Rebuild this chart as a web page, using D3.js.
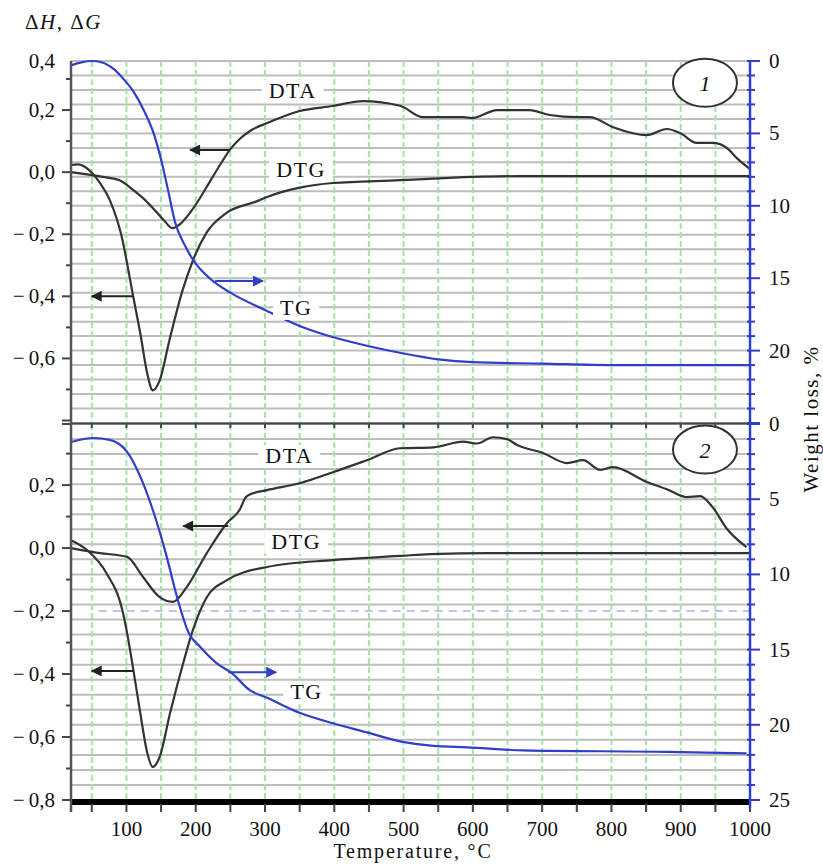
<!DOCTYPE html>
<html>
<head>
<meta charset="utf-8">
<script src="https://cdn.jsdelivr.net/npm/d3@7"></script>
<style>
  body { margin: 0; background: #fff; }
  svg { display: block; }
  text { font-family: "Liberation Serif", "Times New Roman", serif; fill: #111; }
</style>
</head>
<body>
<svg id="chart" width="823" height="865"></svg>
<script>
// temperature, °C -> value. DTA/DTG on left axis, TG (weight loss %) on right axis
const dta1 = [[20,0],[60,-0.013],[90,-0.026],[110,-0.058],[127,-0.09],[144,-0.13],[156,-0.16],[166,-0.18],
  [177,-0.168],[192,-0.13],[206,-0.084],[220,-0.032],[235,0.023],[250,0.074],[265,0.11],[280,0.135],[303,0.158],
  [350,0.197],[398,0.213],[441,0.229],[495,0.214],[528,0.177],[586,0.177],[599,0.174],[635,0.2],[682,0.2],
  [711,0.184],[750,0.177],[769,0.177],[802,0.145],[851,0.119],[880,0.139],[899,0.126],[923,0.094],[946,0.094],
  [967,0.077],[981,0.045],[1000,0.01]];
const dtg1 = [[20,0.023],[30,0.025],[47,0.005],[62,-0.035],[76,-0.09],[86,-0.15],[92,-0.197],[110,-0.403],
  [120,-0.519],[130,-0.648],[138,-0.703],[148,-0.671],[162,-0.542],[181,-0.381],[196,-0.284],[215,-0.197],
  [244,-0.132],[287,-0.095],[303,-0.08],[350,-0.05],[398,-0.035],[495,-0.026],[559,-0.019],[665,-0.013],[1000,-0.013]];
const tg1 = [[20,0.3],[35,0.1],[50,0],[65,0.1],[80,0.5],[95,1.2],[110,2.1],[125,3.4],[140,5.1],[150,6.8],
  [160,8.9],[170,11.1],[185,12.8],[200,14.0],[220,15.0],[250,16.0],[300,17.2],[350,18.3],[400,19.1],[450,19.7],
  [500,20.2],[550,20.6],[600,20.8],[700,20.9],[800,21.0],[1000,21.0]];

const dta2 = [[20,0],[62,-0.016],[101,-0.028],[124,-0.092],[148,-0.156],[167,-0.171],[187,-0.124],[216,-0.016],
  [245,0.079],[263,0.12],[272,0.16],[278,0.17],[303,0.184],[350,0.206],[398,0.241],[447,0.279],[495,0.317],
  [543,0.32],[586,0.338],[606,0.332],[629,0.352],[649,0.346],[664,0.327],[701,0.302],[736,0.27],[759,0.279],
  [784,0.248],[802,0.257],[851,0.21],[880,0.187],[909,0.162],[928,0.165],[946,0.13],[966,0.063],[995,0.003]];
const dtg2 = [[20,0.025],[43,-0.006],[71,-0.079],[94,-0.197],[101,-0.27],[110,-0.387],[120,-0.524],[130,-0.65],
  [138,-0.695],[148,-0.663],[163,-0.524],[182,-0.365],[196,-0.26],[216,-0.156],[245,-0.102],[303,-0.06],
  [398,-0.038],[495,-0.025],[538,-0.019],[625,-0.016],[1000,-0.016]];
const tg2 = [[20,1.2],[52,0.93],[76,1.06],[101,1.86],[120,3.5],[138,5.7],[158,8.8],[173,11.5],[190,13.9],
  [206,14.8],[230,15.9],[253,16.6],[278,17.7],[303,18.2],[350,19.2],[398,19.9],[447,20.5],[495,21.1],
  [543,21.4],[592,21.5],[673,21.7],[880,21.8],[995,21.9]];

const xTicks = [100, 200, 300, 400, 500, 600, 700, 800, 900, 1000];
const leftTicks1 = [0.4, 0.2, 0, -0.2, -0.4, -0.6];
const leftTicks2 = [0.2, 0, -0.2, -0.4, -0.6, -0.8];
const rightTicks1 = [0, 5, 10, 15, 20];
const rightTicks2 = [0, 5, 10, 15, 20, 25];

// labels: [name, T, value on left axis]
const curveLabels1 = [["DTA", 340, 0.24], ["DTG", 352, -0.015], ["TG", 345, -0.46]];
const curveLabels2 = [["DTA", 335, 0.27], ["DTG", 345, -0.002], ["TG", 360, -0.48]];
// arrows: [T from, T to, value, axis]
const arrows1 = [[249, 192, 0.071, "L"], [110, 50, -0.4, "L"], [228, 297, 15.2, "R"]];
const arrows2 = [[247, 182, 0.07, "L"], [110, 50, -0.39, "L"], [247, 316, 16.5, "R"]];

const svg = d3.select("#chart");
const x = d3.scaleLinear().domain([20, 1000]).range([71, 750]);
const blue = "#2f3fc8";

const panels = [
  { top: 61, bottom: 423, left: [-0.808, 0.358], dta: dta1, dtg: dtg1, tg: tg1,
    lt: leftTicks1, rt: rightTicks1, labels: curveLabels1, arrows: arrows1, tag: "1" },
  { top: 424, bottom: 800, left: [-0.8, 0.394], dta: dta2, dtg: dtg2, tg: tg2,
    lt: leftTicks2, rt: rightTicks2, labels: curveLabels2, arrows: arrows2, tag: "2" }
];

let defs = svg.append("defs");
for (let [id, col] of [["ahBlack", "#222"], ["ahBlue", blue]]) {
  defs.append("marker")
    .attr("id", id)
    .attr("viewBox", "0 -5 10 10")
    .attr("refX", 9).attr("refY", 0)
    .attr("orient", "auto")
    .attr("markerUnits", "userSpaceOnUse")
    .attr("markerWidth", 13).attr("markerHeight", 11)
    .append("path")
    .attr("d", "M0,-5 L10,0 L0,5 Z")
    .attr("fill", col);
}

let fmtLeft = v => (v < 0 ? "\u2212\u2009" : "") + Math.abs(v).toFixed(1).replace(".", ",");

for (let p of panels) {
  let yL = d3.scaleLinear().domain(p.left).range([p.bottom, p.top]);
  let yR = d3.scaleLinear().domain([0, 25]).range([p.top, p.bottom]);
  let g = svg.append("g");

  // gray horizontal grid every 1 %
  g.selectAll(".hg").data(d3.range(0, 26)).join("line")
    .attr("x1", x(20)).attr("x2", x(1000))
    .attr("y1", d => yR(d)).attr("y2", d => yR(d))
    .attr("stroke", "#bdbdbd").attr("stroke-width", 2);

  // green dashed vertical grid every 50 °C
  g.selectAll(".vg").data(d3.range(50, 1000, 50)).join("line")
    .attr("x1", d => x(d)).attr("x2", d => x(d))
    .attr("y1", p.top).attr("y2", p.bottom)
    .attr("stroke", "#a6e3a6").attr("stroke-width", 2)
    .attr("stroke-dasharray", "6 3");

  if (p.tag == "2") {
    g.append("line")
      .attr("x1", x(60)).attr("x2", x(1000))
      .attr("y1", yL(-0.2)).attr("y2", yL(-0.2))
      .attr("stroke", "#8a8ee0").attr("stroke-width", 1.5)
      .attr("stroke-dasharray", "8 6").attr("opacity", 0.7);
  }

  // left axis ticks + labels
  g.selectAll(".lt").data(d3.range(-8, 5).map(d => d / 10).filter(v => v >= p.left[0] + 0.005 - (p.tag == "2" ? 0.01 : 0) && v <= p.left[1] + 0.01)).join("line")
    .attr("x1", d => Math.round(d * 10) % 2 == 0 ? 62 : 66).attr("x2", 71)
    .attr("y1", d => yL(Math.min(d, p.left[1]))).attr("y2", d => yL(Math.min(d, p.left[1])))
    .attr("stroke", "#444").attr("stroke-width", 2);
  g.selectAll(".ll").data(p.lt).join("text")
    .attr("x", 55).attr("y", d => yL(Math.min(d, p.left[1])) + 7)
    .attr("text-anchor", "end")
    .style("font-size", "21px")
    .text(fmtLeft);

  // right axis ticks + labels
  g.selectAll(".rt").data(d3.range(0, 26)).join("line")
    .attr("x1", 747).attr("x2", d => d % 5 == 0 ? 760 : 755)
    .attr("y1", d => yR(d)).attr("y2", d => yR(d))
    .attr("stroke", blue).attr("stroke-width", 2);
  g.selectAll(".rl").data(p.rt).join("text")
    .attr("x", 769).attr("y", d => yR(d) + 7)
    .style("font-size", "21px")
    .text(d => d);

  // curves
  let lineL = d3.line().x(d => x(d[0])).y(d => yL(d[1])).curve(d3.curveMonotoneX);
  let lineR = d3.line().x(d => x(d[0])).y(d => yR(d[1])).curve(d3.curveMonotoneX);
  for (let s of [p.dta, p.dtg]) {
    g.append("path").attr("d", lineL(s))
      .attr("fill", "none").attr("stroke", "#333").attr("stroke-width", 2.2);
  }
  g.append("path").attr("d", lineR(p.tg))
    .attr("fill", "none").attr("stroke", blue).attr("stroke-width", 2.2);

  // curve labels with white boxes
  for (let [name, t, v] of p.labels) {
    let tx = g.append("text")
      .attr("x", x(t)).attr("y", yL(v))
      .attr("text-anchor", "middle")
      .style("font-size", "22px")
      .style("letter-spacing", "1.5px")
      .text(name);
    let bb = tx.node().getBBox();
    g.insert("rect", () => tx.node())
      .attr("x", bb.x - 7).attr("y", bb.y + 2)
      .attr("width", bb.width + 14).attr("height", bb.height - 2)
      .attr("fill", "#fff");
  }

  // arrows
  for (let [t0, t1, v, ax] of p.arrows) {
    let yy = ax == "L" ? yL(v) : yR(v);
    g.append("line")
      .attr("x1", x(t0)).attr("x2", x(t1))
      .attr("y1", yy).attr("y2", yy)
      .attr("stroke", ax == "L" ? "#222" : blue).attr("stroke-width", 2)
      .attr("marker-end", ax == "L" ? "url(#ahBlack)" : "url(#ahBlue)");
  }

  // panel tag ellipse
  let cy = yR(p.tag == "1" ? 1.5 : 1.7);
  g.append("ellipse")
    .attr("cx", x(935)).attr("cy", cy)
    .attr("rx", 32).attr("ry", 24)
    .attr("fill", "#fff").attr("stroke", "#333").attr("stroke-width", 2);
  g.append("text")
    .attr("x", x(935)).attr("y", cy + 8)
    .attr("text-anchor", "middle")
    .style("font-size", "22px").style("font-style", "italic")
    .text(p.tag);
}

// divider between panels, with small ticks
svg.append("line").attr("x1", x(20)).attr("x2", x(1000)).attr("y1", 423.5).attr("y2", 423.5)
  .attr("stroke", "#444").attr("stroke-width", 2);
svg.selectAll(".dt").data(d3.range(50, 1000, 50)).join("line")
  .attr("x1", d => x(d)).attr("x2", d => x(d))
  .attr("y1", 423).attr("y2", 428)
  .attr("stroke", "#444").attr("stroke-width", 2);

// bottom axis (thick) + ticks + labels
svg.append("line").attr("x1", x(20) - 1).attr("x2", x(1000)).attr("y1", 802).attr("y2", 802)
  .attr("stroke", "#000").attr("stroke-width", 6);
svg.selectAll(".bt").data(d3.range(50, 1050, 50)).join("line")
  .attr("x1", d => x(d)).attr("x2", d => x(d))
  .attr("y1", 804).attr("y2", 812)
  .attr("stroke", "#444").attr("stroke-width", 2);
svg.selectAll(".bl").data(xTicks).join("text")
  .attr("x", d => x(d)).attr("y", 836)
  .attr("text-anchor", "middle")
  .style("font-size", "21px")
  .text(d => d);

// left and right axis lines
svg.append("line").attr("x1", 71).attr("x2", 71).attr("y1", 61).attr("y2", 812)
  .attr("stroke", "#555").attr("stroke-width", 2.5);
svg.append("line").attr("x1", 750).attr("x2", 750).attr("y1", 61).attr("y2", 808)
  .attr("stroke", blue).attr("stroke-width", 2.5);

// axis titles
let t1 = svg.append("text").attr("x", 25).attr("y", 29)
  .style("font-size", "21px").style("letter-spacing", "1.5px");
t1.append("tspan").text("\u0394");
t1.append("tspan").style("font-style", "italic").text("H");
t1.append("tspan").text(", \u0394");
t1.append("tspan").style("font-style", "italic").text("G");

svg.append("text")
  .attr("x", 413).attr("y", 858)
  .attr("text-anchor", "middle")
  .style("font-size", "20px")
  .style("letter-spacing", "1.8px")
  .text("Temperature, \u00b0C");

svg.append("text")
  .attr("transform", "translate(818,419) rotate(-90)")
  .attr("text-anchor", "middle")
  .style("font-size", "21px")
  .style("letter-spacing", "1.5px")
  .text("Weight loss, %");
</script>
</body>
</html>
